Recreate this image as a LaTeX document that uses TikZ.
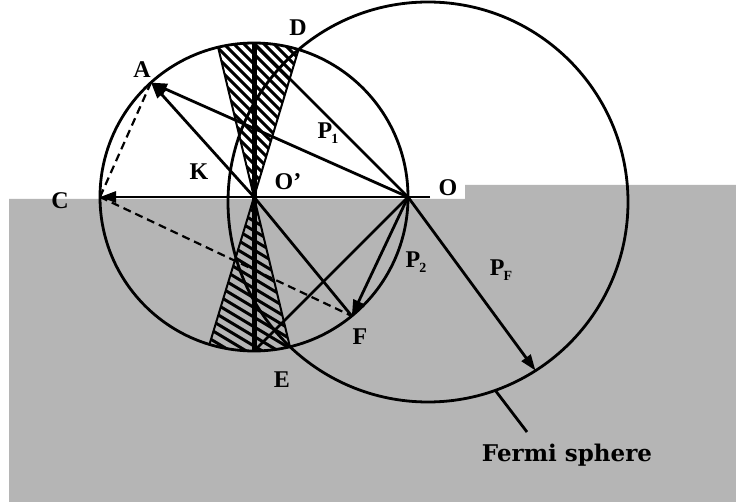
\documentclass[tikz,border=0pt]{standalone}
\usepackage{fontspec}
\setmainfont{Liberation Serif}
\newfontfamily\capfont{DejaVu Serif}
\usetikzlibrary{calc,arrows.meta}
\definecolor{bggray}{RGB}{181,181,181}
\begin{document}
\begin{tikzpicture}[x=1pt,y=-1pt,
  ln/.style={line width=2.8pt},
  thinln/.style={line width=2pt},
  dashln/.style={line width=2.2pt, dash pattern=on 8pt off 5pt},
  lbl/.style={font=\fontsize{24}{24}\selectfont\bfseries, inner sep=0pt},
  hatchln/.style={line width=3pt},
  tip/.style={-{Triangle[length=16pt,width=11pt]}},
]
\useasboundingbox (0,0) rectangle (736,502);
\fill[white] (0,0) rectangle (736,502);
\fill[bggray] (9,199) -- (465,199) -- (465,185) -- (736,185) -- (736,502) -- (9,502) -- cycle;

% points
\coordinate (Op) at (254,197);
\coordinate (O) at (408,197);
\coordinate (Oext) at (430,197);
\coordinate (C) at (100,197);
\coordinate (T) at (254,43);
\coordinate (B) at (254,351);
\coordinate (A) at (151,82.6);
\coordinate (D) at (298.5,49.7);
\coordinate (E) at (289.9,346.7);
\coordinate (Es) at (218.1,47.3);
\coordinate (Ds) at (209.5,344.3);
\coordinate (F) at (351.8,316);
\coordinate (Fc) at (428,202);
\coordinate (Pf) at (535.5,370.6);
\coordinate (L1) at (495,390);
\coordinate (L2) at (527,432);

% hatching, upper sector
\begin{scope}
  \clip (Op) circle[radius=154];
  \clip (Op) -- ($(Op)!1.4!(D)$) -- ($(Op)!1.4!(Es)$) -- cycle;
  \foreach \k in {0,...,26} \draw[hatchln] (40+\k*10,40) -- ++(170,170);
\end{scope}
% hatching, lower sector
\begin{scope}
  \clip (Op) circle[radius=154];
  \clip (Op) -- ($(Op)!1.4!(Ds)$) -- ($(Op)!1.4!(E)$) -- cycle;
  \foreach \k in {0,...,25} \draw[hatchln] (-70+\k*16,190) -- ++(300,180);
\end{scope}

% circles
\draw[ln] (Op) circle[radius=154];
\draw[ln] (Fc) circle[radius=200];

% lines
\draw[ln, tip] (Oext) -- (C);
\draw[line width=5pt] (T) -- (B);
\draw[thinln] (D) -- (Ds);
\draw[thinln] (Es) -- (E);
\draw[ln] (O) -- (T);
\draw[ln] (O) -- (B);
\draw[ln] (Op) -- (F);
\draw[ln, tip] (O) -- (A);
\draw[ln, tip] (Op) -- (A);
\draw[ln, tip] (O) -- (F);
\draw[ln, tip] (O) -- (Pf);
\draw[dashln] (A) -- (C);
\draw[dashln] (C) -- (F);
\draw[ln] (L1) -- (L2);

% labels
\node[lbl] (lA) at (142,70) {A};
\node[lbl] (lD) at (298,28) {D};
\node[lbl] (lK) at (199,172) {K};
\node[lbl] (lOp) at (288,182) {O'};
\node[lbl] (lO) at (448,188) {O};
\node[lbl] (lC) at (60,201) {C};
\node[lbl] (lF) at (360,337) {F};
\node[lbl] (lE) at (282,380) {E};
\node[lbl] (lP1) at (328,133) {P\kern-1pt\raisebox{-5pt}{\fontsize{14}{14}\selectfont 1}};
\node[lbl] (lP2) at (416,262) {P\kern-1pt\raisebox{-5pt}{\fontsize{14}{14}\selectfont 2}};
\node[lbl] (lPf) at (501,270) {P\kern-1pt\raisebox{-5pt}{\fontsize{14}{14}\selectfont F}};
\node[inner sep=0pt, font=\capfont\bfseries\fontsize{23}{23}\selectfont] (lFs) at (567,455) {Fermi sphere};
\end{tikzpicture}
\end{document}
